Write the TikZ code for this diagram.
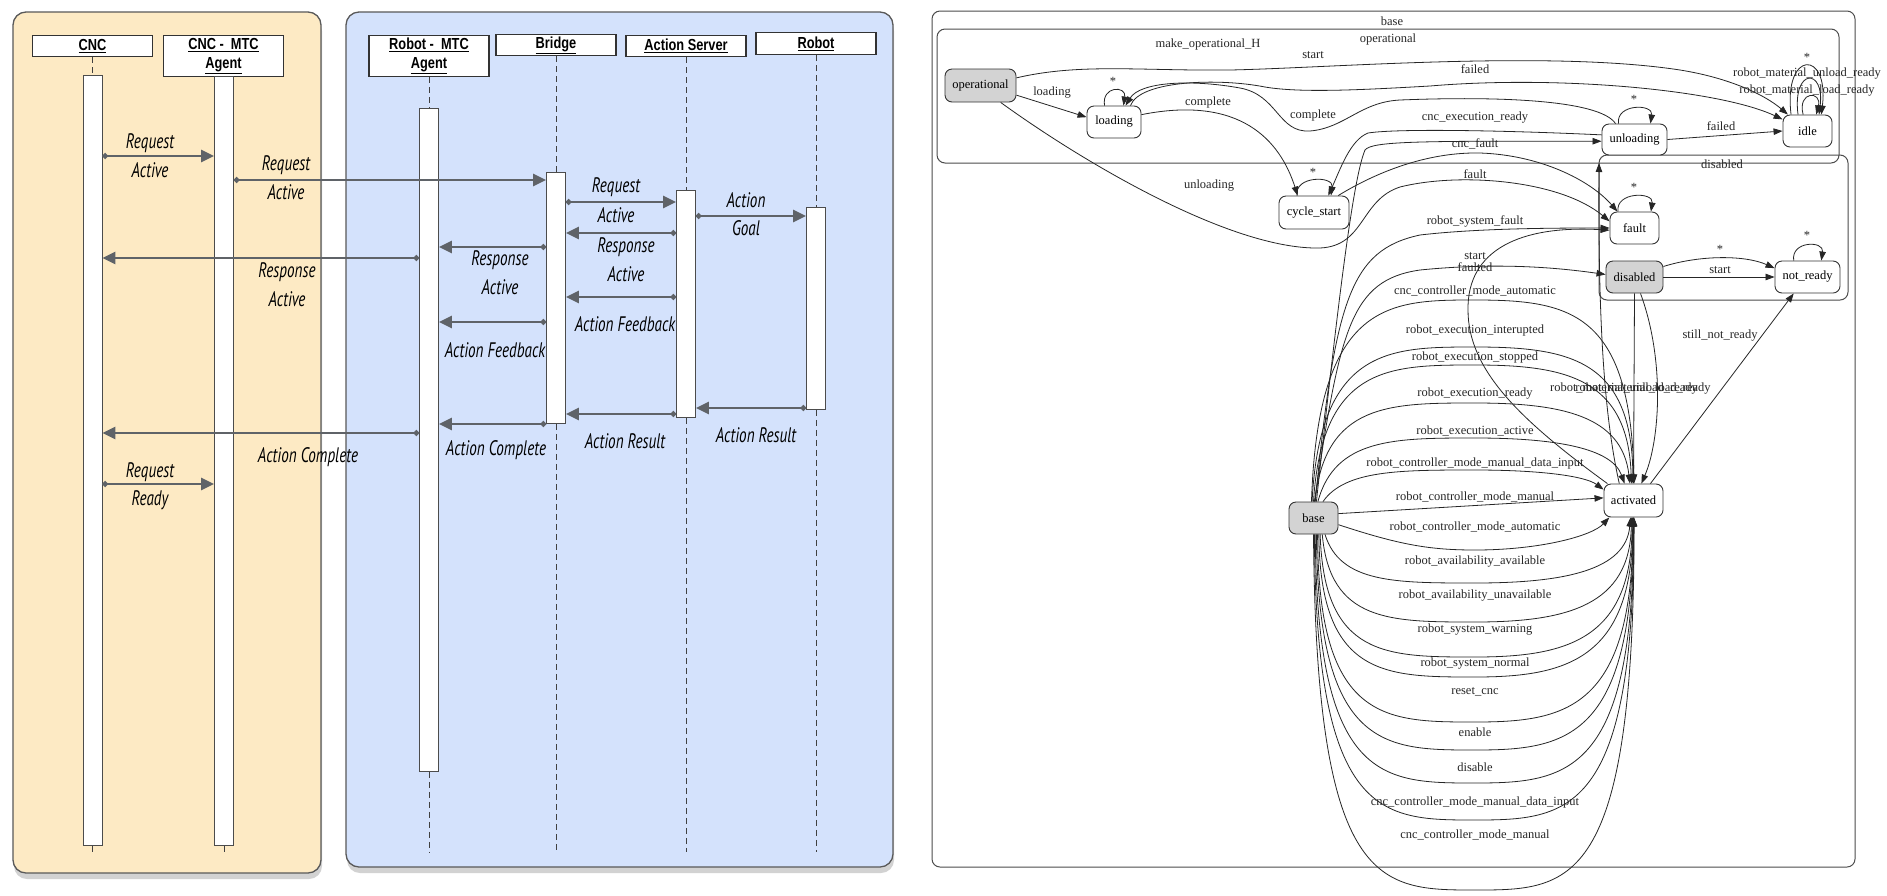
\documentclass[tikz,border=0pt]{standalone}
\usepackage{fontspec}
\setmainfont{Liberation Serif}
\newfontfamily\seqfont[FakeStretch=0.72]{PT Sans}
\newfontfamily\hdrfont[FakeStretch=0.8]{Liberation Sans}
\usetikzlibrary{arrows.meta,shadows}
\definecolor{panelorange}{RGB}{253,234,196}
\definecolor{panelblue}{RGB}{212,226,252}
\definecolor{msggray}{RGB}{95,99,104}
\definecolor{statefill}{RGB}{211,211,211}
\tikzset{
  seqpanel/.style={draw=black!65,line width=1.3pt,rounded corners=13pt,
    drop shadow={shadow xshift=1pt,shadow yshift=-6pt,opacity=.35}},
  seqhead/.style={draw=black!80,fill=white,line width=1.1pt,align=center,inner sep=0pt,anchor=north,
    minimum width=120pt,font=\hdrfont\bfseries\fontsize{16}{19}\selectfont},
  actbar/.style={draw=black!70,fill=white,line width=0.8pt,inner sep=0pt,minimum width=19pt,anchor=north},
  lifeline/.style={draw=black!75,line width=0.8pt,dash pattern=on 6pt off 4pt},
  msgarrow/.style={draw=msggray,line width=2.6pt,{Circle[length=5.5pt]}-{Triangle[length=13pt,width=12pt]}},
  mtxt/.style={font=\seqfont\itshape\fontsize{21}{24}\selectfont,inner sep=0pt},
  gstate/.style={draw=black!80,fill=white,rounded corners=7pt,line width=0.9pt,minimum height=32pt,
    inner sep=0pt,font=\fontsize{12.5}{14}\selectfont},
  ginit/.style={gstate,fill=statefill},
  gcluster/.style={draw=black!70,rounded corners=8pt,line width=1pt},
  gedge/.style={draw=black!85,line width=0.8pt,-{Triangle[length=9pt,width=6.5pt]}},
  glbl/.style={font=\fontsize{12.5}{14}\selectfont,inner sep=0pt,text=black!85}
}
\begin{document}
\begin{tikzpicture}[x=1pt,y=-1pt]
\fill[white] (0,0) rectangle (1887,895);
\useasboundingbox (0,0) rectangle (1887,895);

% sequence diagram
\filldraw[seqpanel,fill=panelorange] (13,12) rectangle (321,873);
\filldraw[seqpanel,fill=panelblue] (346,12) rectangle (893,867);

\node[seqhead,minimum height=21pt] (cnc) at (92.5,35) {\underline{CNC}};
\node[seqhead,minimum height=41pt] (cmtc) at (223.5,35) {\underline{CNC -\ \ MTC}\\\underline{Agent}};
\node[seqhead,minimum height=41pt] (rmtc) at (429,35) {\underline{Robot -\ \ MTC}\\\underline{Agent}};
\node[seqhead,minimum height=21pt] (bridge) at (556,34) {\underline{Bridge}};
\node[seqhead,minimum height=21pt] (aserver) at (686,35) {\underline{Action Server}};
\node[seqhead,minimum height=22pt] (robot) at (816,32) {\underline{Robot}};

\node[actbar,minimum height=770pt] (cncbar) at (92.5,75) {};
\node[actbar,minimum height=769pt] (cmtcbar) at (224,76) {};
\node[actbar,minimum height=663pt] (rmtcbar) at (429,108) {};
\node[actbar,minimum height=251pt] (bridgebar) at (556,172) {};
\node[actbar,minimum height=227pt] (aserverbar) at (686,190) {};
\node[actbar,minimum height=202pt] (robotbar) at (816,207) {};

\coordinate (cncend) at (92.5,852);
\coordinate (cmtcend) at (224,852);
\coordinate (rmtcend) at (429,852);
\coordinate (bridgeend) at (556,852);
\coordinate (aserverend) at (686,852);
\coordinate (robotend) at (816,852);
\draw[lifeline] (cnc) -- (cncbar) (cncbar) -- (cncend);
\draw[lifeline] (cmtcbar) -- (cmtcend);
\draw[lifeline] (rmtc) -- (rmtcbar) (rmtcbar) -- (rmtcend);
\draw[lifeline] (bridge) -- (bridgebar) (bridgebar) -- (bridgeend);
\draw[lifeline] (aserver) -- (aserverbar) (aserverbar) -- (aserverend);
\draw[lifeline] (robot) -- (robotbar) (robotbar) -- (robotend);

\draw[msgarrow] (cncbar.east |- 0,156) -- (cmtcbar.west |- 0,156);
\draw[msgarrow] (cmtcbar.east |- 0,180) -- (bridgebar.west |- 0,180);
\draw[msgarrow] (bridgebar.east |- 0,202) -- (aserverbar.west |- 0,202);
\draw[msgarrow] (aserverbar.east |- 0,216) -- (robotbar.west |- 0,216);
\draw[msgarrow] (aserverbar.west |- 0,233) -- (bridgebar.east |- 0,233);
\draw[msgarrow] (bridgebar.west |- 0,247) -- (rmtcbar.east |- 0,247);
\draw[msgarrow] (rmtcbar.west |- 0,258) -- (cncbar.east |- 0,258);
\draw[msgarrow] (aserverbar.west |- 0,297) -- (bridgebar.east |- 0,297);
\draw[msgarrow] (bridgebar.west |- 0,322) -- (rmtcbar.east |- 0,322);
\draw[msgarrow] (robotbar.west |- 0,408) -- (aserverbar.east |- 0,408);
\draw[msgarrow] (aserverbar.west |- 0,414) -- (bridgebar.east |- 0,414);
\draw[msgarrow] (bridgebar.west |- 0,424) -- (rmtcbar.east |- 0,424);
\draw[msgarrow] (rmtcbar.west |- 0,433) -- (cncbar.east |- 0,433);
\draw[msgarrow] (cncbar.east |- 0,484) -- (cmtcbar.west |- 0,484);

\node[mtxt] (q1) at (150,143) {Request};
\node[mtxt] (q1b) at (150,170) {Active};
\node[mtxt] (q2) at (286,165) {Request};
\node[mtxt] (q2b) at (286,192) {Active};
\node[mtxt] (q3) at (616,187) {Request};
\node[mtxt] (q3b) at (616,215) {Active};
\node[mtxt] (g4) at (746,200) {Action};
\node[mtxt] (g4b) at (746,228) {Goal};
\node[mtxt] (r5) at (626,247) {Response};
\node[mtxt] (r5b) at (626,274) {Active};
\node[mtxt] (r6) at (500,260) {Response};
\node[mtxt] (r6b) at (500,287) {Active};
\node[mtxt] (r7) at (287,272) {Response};
\node[mtxt] (r7b) at (287,299) {Active};
\node[mtxt] (f8) at (625,324) {Action Feedback};
\node[mtxt] (f9) at (495,350) {Action Feedback};
\node[mtxt] (s10) at (756,435) {Action Result};
\node[mtxt] (s11) at (625,441) {Action Result};
\node[mtxt] (c12) at (496,450) {Action Complete};
\node[mtxt] (c13) at (308,457) {Action Complete};
\node[mtxt] (q14) at (150,472) {Request};
\node[mtxt] (q14b) at (150,500) {Ready};

% state machine
\draw[gcluster] (932,11) rectangle (1855,867);
\draw[gcluster] (937,29) rectangle (1839,163);
\draw[gcluster] (1599,155) rectangle (1848,300);
\node[glbl] (lbase) at (1392,21) {base};
\node[glbl] (lop) at (1388,39) {operational};
\node[glbl] (ldis) at (1722,164) {disabled};

\node[ginit,minimum width=71pt,minimum height=33pt] (operational) at (980.5,85.5) {operational};
\node[gstate,minimum width=54pt] (loading) at (1114,122) {loading};
\node[gstate,minimum width=70pt,minimum height=33pt] (cycle) at (1314,212.5) {cycle\_start};
\node[gstate,minimum width=65pt,minimum height=31pt] (unloading) at (1634.5,139.5) {unloading};
\node[gstate,minimum width=49pt] (idle) at (1807.5,131) {idle};
\node[gstate,minimum width=49pt] (fault) at (1634.5,228) {fault};
\node[ginit,minimum width=57pt] (disabled) at (1634.5,277) {disabled};
\node[gstate,minimum width=65pt] (notready) at (1807.5,277) {not\_ready};
\node[ginit,minimum width=49pt] (base) at (1313.5,518) {base};
\node[gstate,minimum width=59pt,minimum height=33pt] (activated) at (1633.5,500.5) {activated};
\coordinate (opbot) at (1599,163);

\draw[gedge] (operational.-15) -- (loading.170);
\draw[gedge] (loading.120) .. controls +(-3,-20) and +(3,-20) .. (loading.60);
\draw[gedge] (operational.12) .. controls (1080,63) and (1140,71) .. (1230,70) .. controls (1330,68) and (1550,50) .. (1680,70) .. controls (1730,78) and (1765,95) .. (idle.140);
\draw[gedge] (loading.45) .. controls (1140,80) and (1220,78) .. (1265,87) .. controls (1300,93) and (1360,90) .. (1430,86) .. controls (1560,75) and (1720,90) .. (idle.155);
\draw[gedge] (unloading.140) .. controls (1600,100) and (1500,96) .. (1400,100) .. controls (1360,102) and (1345,128) .. (1310,131) .. controls (1278,133) and (1278,95) .. (1240,88) .. controls (1190,79) and (1140,82) .. (loading.55);
\draw[gedge] (loading.15) .. controls (1240,95) and (1280,140) .. (cycle.134);
\draw[gedge] (cycle.135) .. controls +(-3,-20) and +(3,-20) .. (cycle.45);
\draw[gedge] (operational.-40) .. controls (1080,160) and (1230,250) .. (1320,248) .. controls (1365,246) and (1360,200) .. (1400,187) .. controls (1460,172) and (1560,180) .. (fault.165);
\draw[gedge] (unloading.172) .. controls (1520,131) and (1400,128) .. (1368,133) .. controls (1350,140) and (1340,170) .. (cycle.50);
\draw[gedge] (base.80) .. controls (1335,330) and (1352,180) .. (1365,150) .. controls (1372,141) and (1420,141) .. (unloading.183);
\draw[gedge] (cycle.35) .. controls (1380,170) and (1430,152) .. (1480,153) .. controls (1540,155) and (1590,180) .. (fault.136);
\draw[gedge] (base.84) .. controls (1335,300) and (1350,250) .. (1420,235) .. controls (1480,228) and (1560,228) .. (fault.west);
\draw[gedge] (base.87) .. controls (1340,330) and (1350,280) .. (1420,270) .. controls (1500,262) and (1560,268) .. (disabled.175);
\draw[gedge] (activated.147) .. controls (1520,420) and (1468,370) .. (1468,310) .. controls (1467,250) and (1520,225) .. (fault.185);
\draw[gedge] (unloading.135) .. controls +(-3,-20) and +(3,-20) .. (unloading.45);
\draw[gedge] (unloading.east) -- (idle.west);
\draw[gedge] (idle.135) .. controls +(-8,-65) and +(8,-65) .. (idle.50);
\draw[gedge] (idle.120) .. controls +(-6,-47) and +(6,-47) .. (idle.55);
\draw[gedge] (idle.105) .. controls +(-6,-24) and +(6,-24) .. (idle.62);
\draw[gedge] (fault.135) .. controls +(-3,-20) and +(3,-20) .. (fault.45);
\draw[gedge] (disabled.east) -- (notready.west);
\draw[gedge] (disabled.20) .. controls (1700,255) and (1745,255) .. (notready.165);
\draw[gedge] (notready.130) .. controls +(-3,-20) and +(3,-20) .. (notready.50);
\draw[gedge] (activated.45) -- (notready.-130);
\draw[gedge] (disabled.south) -- (activated.north);
\draw[gedge] (disabled.-70) .. controls (1665,360) and (1660,440) .. (activated.65);
\draw[gedge] (activated.130) .. controls (1605,420) and (1598,330) .. (opbot);

\draw[gedge] (base.97) .. controls (1318,300) and (1390,300) .. (1475,300) .. controls (1570,300) and (1630,312) .. (activated.88);
\draw[gedge] (base.95) .. controls (1320,347) and (1390,347) .. (1475,347) .. controls (1570,347) and (1632,360) .. (activated.92);
\draw[gedge] (base.90) .. controls (1322,365) and (1390,365) .. (1475,365) .. controls (1565,365) and (1628,378) .. (activated.97);
\draw[gedge] (base.85) .. controls (1325,403) and (1390,403) .. (1475,403) .. controls (1560,403) and (1622,415) .. (activated.102);
\draw[gedge] (base.75) .. controls (1335,438) and (1395,438) .. (1475,438) .. controls (1555,438) and (1612,448) .. (activated.118);
\draw[gedge] (base.60) .. controls (1345,470) and (1400,470) .. (1475,470) .. controls (1540,470) and (1585,476) .. (activated.160);
\draw[gedge] (base.10) -- (activated.175);
\draw[gedge] (base.-15) .. controls (1400,545) and (1430,550) .. (1475,550) .. controls (1540,550) and (1592,536) .. (activated.-145);
\draw[gedge] (base.-55) .. controls (1340,583) and (1395,583) .. (1475,583) .. controls (1565,583) and (1626,570) .. (activated.-100);
\draw[gedge] (base.-62) .. controls (1330,622) and (1390,622) .. (1475,622) .. controls (1568,622) and (1630,605) .. (activated.-97);
\draw[gedge] (base.-68) .. controls (1324,657) and (1386,657) .. (1475,657) .. controls (1566,657) and (1632,640) .. (activated.-95);
\draw[gedge] (base.-72) .. controls (1320,677) and (1385,677) .. (1475,677) .. controls (1565,677) and (1633,660) .. (activated.-93);
\draw[gedge] (base.-76) .. controls (1318,722) and (1385,722) .. (1475,722) .. controls (1565,722) and (1633,710) .. (activated.-92);
\draw[gedge] (base.-80) .. controls (1318,750) and (1385,750) .. (1475,750) .. controls (1565,750) and (1633,740) .. (activated.-91);
\draw[gedge] (base.-84) .. controls (1317,783) and (1383,783) .. (1475,783) .. controls (1567,783) and (1634,775) .. (activated.-90);
\draw[gedge] (base.-87) .. controls (1316,820) and (1382,820) .. (1475,820) .. controls (1568,820) and (1634,815) .. (activated.-89);
\draw[gedge] (base.-90) .. controls (1316,890) and (1380,890) .. (1475,890) .. controls (1570,890) and (1634,890) .. (activated.-88);

\node[glbl] (lmk) at (1208,44) {make\_operational\_H};
\node[glbl] (lst) at (1313,55) {start};
\node[glbl] (lld) at (1052,93) {loading};
\node[glbl] (lls) at (1113,81) {*};
\node[glbl] (lcp) at (1208,102) {complete};
\node[glbl] (lcpb) at (1313,115) {complete};
\node[glbl] (lfl) at (1475,69) {failed};
\node[glbl] (lun) at (1209,186) {unloading};
\node[glbl] (lcs) at (1313,172) {*};
\node[glbl] (lcer) at (1475,118) {cnc\_execution\_ready};
\node[glbl] (lcf) at (1475,144) {cnc\_fault};
\node[glbl] (lft) at (1475,174) {fault};
\node[glbl] (lrsf) at (1475,221) {robot\_system\_fault};
\node[glbl] (lstb) at (1475,256) {start};
\node[glbl] (lfd) at (1475,267) {faulted};
\node[glbl] (lus) at (1634,99) {*};
\node[glbl] (lflb) at (1721,126) {failed};
\node[glbl] (lis) at (1807,57) {*};
\node[glbl] (lmu) at (1807,74) {robot\_material\_unload\_ready};
\node[glbl] (lml) at (1807,91) {robot\_material\_load\_ready};
\node[glbl] (lfs) at (1634,187) {*};
\node[glbl] (lds) at (1720,249) {*};
\node[glbl] (lstc) at (1720,270) {start};
\node[glbl] (lns) at (1807,235) {*};
\node[glbl] (lsnr) at (1720,336) {still\_not\_ready};
\node[glbl] (lmub) at (1624,389) {robot\_material\_unload\_ready};
\node[glbl] (lmlb) at (1643,389) {robot\_material\_load\_ready};

\node[glbl] (la1) at (1475,291) {cnc\_controller\_mode\_automatic};
\node[glbl] (la2) at (1475,330) {robot\_execution\_interupted};
\node[glbl] (la3) at (1475,357) {robot\_execution\_stopped};
\node[glbl] (la4) at (1475,394) {robot\_execution\_ready};
\node[glbl] (la5) at (1475,431) {robot\_execution\_active};
\node[glbl] (la6) at (1475,463) {robot\_controller\_mode\_manual\_data\_input};
\node[glbl] (la7) at (1475,497) {robot\_controller\_mode\_manual};
\node[glbl] (la8) at (1475,527) {robot\_controller\_mode\_automatic};
\node[glbl] (la9) at (1475,562) {robot\_availability\_available};
\node[glbl] (la10) at (1475,596) {robot\_availability\_unavailable};
\node[glbl] (la11) at (1475,630) {robot\_system\_warning};
\node[glbl] (la12) at (1475,664) {robot\_system\_normal};
\node[glbl] (la13) at (1475,692) {reset\_cnc};
\node[glbl] (la14) at (1475,732) {enable};
\node[glbl] (la15) at (1475,767) {disable};
\node[glbl] (la16) at (1475,802) {cnc\_controller\_mode\_manual\_data\_input};
\node[glbl] (la17) at (1475,835) {cnc\_controller\_mode\_manual};
\end{tikzpicture}
\end{document}
